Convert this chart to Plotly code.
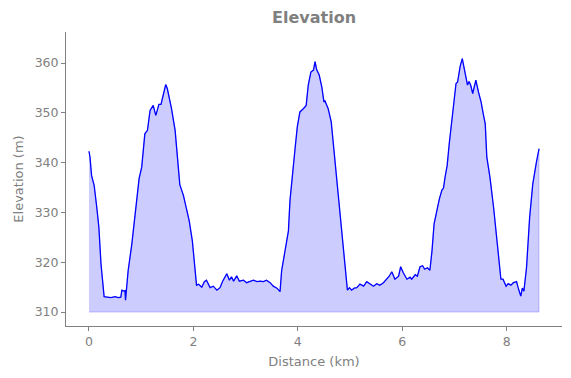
import plotly.graph_objects as go

distance_km = [0.00, 0.02, 0.05, 0.10, 0.15, 0.19, 0.23, 0.29, 0.35, 0.42, 0.50, 0.56, 0.61,
               0.63, 0.67, 0.69, 0.70, 0.75, 0.82, 0.90, 0.96, 1.01, 1.07, 1.12, 1.17, 1.23,
               1.28, 1.34, 1.38, 1.42, 1.47, 1.50, 1.58, 1.65, 1.71, 1.74, 1.81, 1.87, 1.92,
               1.98, 2.06, 2.10, 2.16, 2.21, 2.25, 2.32, 2.38, 2.45, 2.51, 2.56, 2.64, 2.69,
               2.73, 2.77, 2.83, 2.88, 2.96, 3.02, 3.09, 3.15, 3.22, 3.28, 3.34, 3.40, 3.47,
               3.53, 3.60, 3.66, 3.69, 3.75, 3.82, 3.85, 3.90, 3.95, 3.99, 4.04, 4.11, 4.16,
               4.20, 4.25, 4.30, 4.33, 4.36, 4.41, 4.46, 4.50, 4.52, 4.58, 4.64, 4.68, 4.73,
               4.80, 4.84, 4.90, 4.95, 4.99, 5.03, 5.08, 5.13, 5.19, 5.26, 5.32, 5.38, 5.45,
               5.51, 5.57, 5.64, 5.70, 5.75, 5.80, 5.86, 5.93, 5.97, 6.02, 6.09, 6.15, 6.18,
               6.25, 6.29, 6.34, 6.39, 6.43, 6.48, 6.53, 6.57, 6.61, 6.66, 6.71, 6.76, 6.79,
               6.82, 6.86, 6.90, 6.95, 6.99, 7.03, 7.06, 7.09, 7.11, 7.15, 7.19, 7.21, 7.25,
               7.28, 7.31, 7.35, 7.39, 7.41, 7.46, 7.51, 7.55, 7.59, 7.62, 7.68, 7.75, 7.81,
               7.84, 7.89, 7.93, 7.99, 8.03, 8.08, 8.13, 8.19, 8.22, 8.27, 8.30, 8.33, 8.38,
               8.44, 8.50, 8.56, 8.57, 8.62]

elevation_m = [342.3, 341.1, 337.4, 335.4, 331.0, 327.0, 319.7, 313.1, 313.0, 312.9, 313.1, 312.9, 313.0,
               314.4, 314.2, 314.3, 312.4, 318.3, 323.6, 331.7, 336.8, 339.1, 345.8, 346.5, 350.5, 351.5,
               349.5, 351.7, 351.7, 353.5, 355.7, 354.9, 350.9, 346.5, 339.8, 335.6, 333.4, 330.4, 328.3,
               324.3, 315.4, 315.6, 315.0, 316.1, 316.4, 314.9, 315.2, 314.4, 314.9, 316.2, 317.7, 316.4,
               317.1, 316.2, 317.3, 316.2, 316.4, 315.9, 316.1, 316.4, 316.1, 316.2, 316.1, 316.4, 315.9,
               315.2, 314.8, 314.1, 318.3, 322.3, 326.3, 332.4, 338.4, 343.1, 347.2, 350.2, 350.9, 351.5,
               355.6, 358.2, 358.6, 360.3, 358.7, 357.6, 355.2, 352.2, 352.4, 350.9, 348.2, 343.8, 337.8,
               330.4, 327.0, 320.3, 314.4, 314.9, 314.4, 314.8, 314.9, 315.6, 315.2, 316.1, 315.7, 315.2,
               315.7, 315.4, 315.9, 316.6, 317.2, 318.1, 316.6, 317.2, 319.1, 317.9, 316.6, 317.0, 316.6,
               317.5, 317.2, 319.1, 319.3, 318.6, 318.9, 318.4, 322.3, 327.7, 330.4, 332.7, 334.5, 334.9,
               337.1, 339.4, 343.8, 348.5, 353.2, 355.9, 356.2, 358.6, 359.4, 360.9, 358.9, 358.3, 355.6,
               356.3, 355.6, 353.9, 355.6, 356.6, 354.2, 352.2, 349.9, 347.8, 341.1, 337.1, 331.0, 324.3,
               322.3, 316.6, 316.6, 315.2, 315.7, 315.4, 315.9, 316.1, 314.9, 313.2, 314.8, 314.2, 318.9,
               329.0, 335.7, 339.9, 340.1, 342.8]

baseline_m = 310
x_ticks = [0, 2, 4, 6, 8]
y_ticks = [310, 320, 330, 340, 350, 360]

GRAY = "#808080"
FONT = "DejaVu Sans"

poly_x = distance_km + distance_km[::-1]
poly_y = elevation_m + [baseline_m] * len(distance_km)

fig = go.Figure()
fig.add_trace(go.Scatter(
    x=poly_x, y=poly_y, mode="lines", fill="toself",
    fillcolor="rgba(0,0,255,0.2)", line=dict(color="rgba(0,0,255,0.2)", width=1),
    hoverinfo="skip", showlegend=False))
fig.add_trace(go.Scatter(
    x=distance_km, y=elevation_m, mode="lines",
    line=dict(color="#0000ff", width=1.3), showlegend=False))

fig.update_layout(
    width=571, height=378,
    margin=dict(l=58, r=17, t=24, b=60, autoexpand=False),
    paper_bgcolor="white", plot_bgcolor="white",
    font=dict(family=FONT, color=GRAY, size=13),
    title=dict(text="<b>Elevation</b>", x=0.536, xref="container", xanchor="center",
               y=0.99, yref="container", yanchor="top",
               font=dict(family=FONT, size=16, color=GRAY)),
    xaxis=dict(range=[-0.44, 9.06], tickvals=x_ticks, showgrid=False, zeroline=False,
               automargin=False,
               showline=True, linecolor=GRAY, linewidth=1, ticks="outside", ticklen=4,
               tickcolor=GRAY, tickfont=dict(size=12.5, color=GRAY),
               title=dict(text="Distance (km)", font=dict(size=13, color=GRAY), standoff=8)),
    yaxis=dict(range=[307.2, 366.25], tickvals=y_ticks, showgrid=False, zeroline=False,
               automargin=False,
               showline=True, linecolor=GRAY, linewidth=1, ticks="outside", ticklen=4,
               tickcolor=GRAY, tickfont=dict(size=12.5, color=GRAY),
               title=dict(text="Elevation (m)", font=dict(size=13, color=GRAY), standoff=8)),
)

fig.write_html("out.html")
